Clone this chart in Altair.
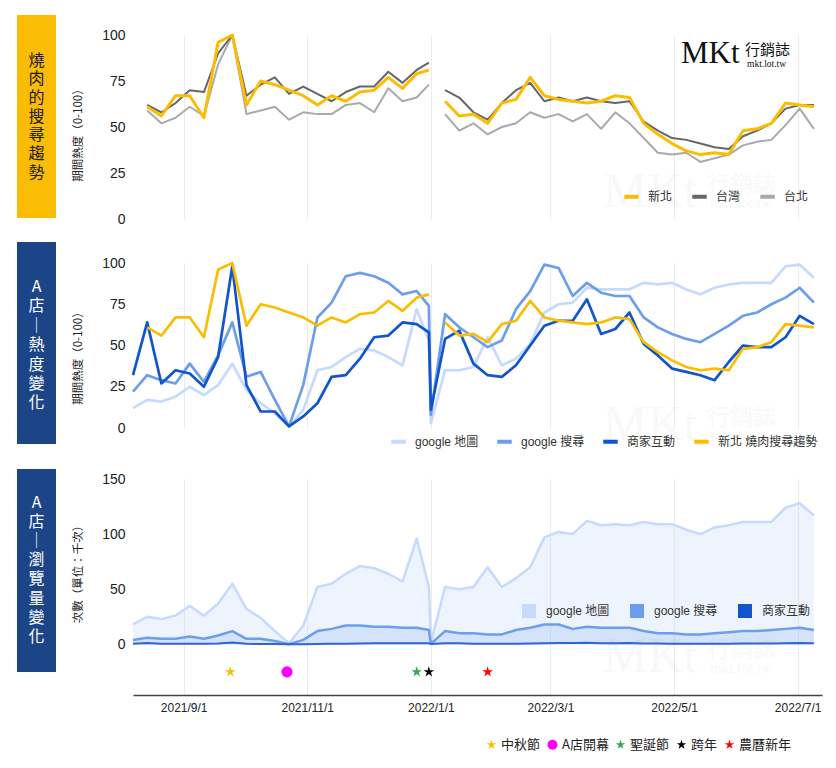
import altair as alt
import pandas as pd

# ---------------- data ----------------
dates = [
    "2021-08-07", "2021-08-14", "2021-08-21", "2021-08-28", "2021-09-04", "2021-09-11",
    "2021-09-18", "2021-09-25", "2021-10-02", "2021-10-09", "2021-10-16", "2021-10-23",
    "2021-10-30", "2021-11-06", "2021-11-13", "2021-11-20", "2021-11-27", "2021-12-04",
    "2021-12-11", "2021-12-18", "2021-12-25", "2021-12-31",
    "2022-01-01",
    "2022-01-08", "2022-01-15", "2022-01-22", "2022-01-29", "2022-02-05", "2022-02-12",
    "2022-02-19", "2022-02-26", "2022-03-05", "2022-03-12", "2022-03-19", "2022-03-26",
    "2022-04-02", "2022-04-09", "2022-04-16", "2022-04-23", "2022-04-30", "2022-05-07",
    "2022-05-14", "2022-05-21", "2022-05-28", "2022-06-04", "2022-06-11", "2022-06-18",
    "2022-06-25", "2022-07-02", "2022-07-09",
]

# Google trends (0-100)
xinbei = [None, 61, 56, 67, 67, 55, 96, 100, 62, 75, 73, 70, 67, 62, 67, 64, 69, 70, 77, 71, 79, 81,
          None,
          64, 56, 57, 52, 63, 65, 77, 67, 65, 64, 63, 64, 67, 66, 52, 46, 41, 37, 35, 36, 35, 48, 49, 52, 63, 62, 61]
taiwan = [None, 62, 58, 63, 70, 69, 90, 100, 67, 73, 77, 68, 72, 68, 64, 69, 72, 72, 80, 74, 81, 85,
          None,
          70, 66, 58, 54, 63, 70, 74, 64, 66, 64, 66, 64, 63, 64, 53, 48, 44, 43, 41, 39, 38, 45, 48, 52, 60, 62, 62]
taipei = [None, 59, 52, 55, 61, 56, 84, 100, 57, 59, 61, 54, 58, 57, 57, 62, 63, 58, 71, 64, 66, 73,
          None,
          57, 48, 52, 46, 50, 52, 58, 55, 57, 53, 57, 49, 58, 52, 44, 36, 35, 36, 31, 33, 35, 40, 42, 43, 51, 60, 49]

# Store A heat (0-100)
gmap_heat = [12, 17, 16, 19, 25, 20, 26, 39, 23, 15, 9, 1, 11, 35, 37, 43, 48, 47, 43, 38, 72, 53,
             3,
             35, 35, 37, 55, 38, 42, 51, 70, 75, 76, 85, 84, 84, 84, 88, 87, 88, 84, 81, 85, 87, 88, 88, 88, 98, 99, 91]
gsearch_heat = [22, 32, 29, 27, 39, 28, 44, 64, 31, 34, 17, 1, 26, 67, 76, 92, 94, 92, 88, 81, 83, 74,
                8,
                69, 61, 55, 49, 53, 72, 83, 99, 97, 80, 88, 82, 80, 80, 67, 61, 57, 54, 52, 57, 62, 68, 70, 75, 79, 85, 76]
interact_heat = [32, 64, 27, 35, 33, 25, 43, 98, 26, 10, 10, 1, 7, 15, 31, 32, 42, 55, 56, 64, 63, 58,
                 11,
                 54, 59, 39, 32, 31, 38, 50, 62, 65, 65, 78, 57, 60, 70, 51, 44, 36, 34, 32, 29, 40, 50, 49, 49, 55, 68, 63]

# Store A views (thousands)
gmap_views = [18, 25, 23, 26, 35, 26, 37, 55, 32, 24, 12, 1, 17, 52, 55, 64, 71, 69, 64, 57, 96, 52,
              1.5,
              52, 50, 52, 70, 52, 60, 70, 97, 102, 100, 112, 108, 109, 108, 111, 109, 109, 104, 100, 106, 108, 111, 111, 111, 124, 128, 117]
gsearch_views = [4, 6, 5, 5, 7, 5, 8, 12, 5, 5, 3, 0, 4, 12, 14, 17, 17, 16, 16, 15, 15, 13,
                 0.5,
                 12, 10, 10, 9, 9, 13, 15, 18, 18, 14, 16, 15, 15, 15, 12, 10, 10, 9, 9, 10, 11, 12, 12, 13, 14, 15, 13]
interact_views = [0.6, 1.1, 0.5, 0.6, 0.6, 0.4, 0.7, 1.6, 0.4, 0.2, 0.2, 0.0, 0.1, 0.3, 0.5, 0.5, 0.7, 0.9, 0.9, 1.0, 1.0, 0.9,
                  0.2,
                  0.9, 1.0, 0.6, 0.5, 0.5, 0.6, 0.8, 1.0, 1.1, 1.1, 1.3, 0.9, 1.0, 1.1, 0.8, 0.7, 0.6, 0.5, 0.5, 0.5, 0.6, 0.8, 0.8, 0.8, 0.9, 1.1, 1.0]

event_names = ["中秋節", "A店開幕", "聖誕節", "跨年", "農曆新年"]
event_dates = ["2021-09-24", "2021-10-22", "2021-12-25", "2021-12-31", "2022-01-29"]
event_marker_level = -25

tick_dates = ["2021-09-01", "2021-11-01", "2022-01-01", "2022-03-01", "2022-05-01", "2022-07-01"]
x_start, x_end = "2021-08-07", "2022-07-13"

box_titles = ["燒肉的搜尋趨勢", "A店│熱度變化", "A店│瀏覽量變化"]

# ---------------- styles ----------------
YEL = "#FBBC04"
BLUE_BOX = "#1C4587"
MAPC = "#C6DAFC"
SEARCHC = "#6D9EEB"
INTC = "#1155CC"
GRID = "#EBEBEB"
FONT = "'Liberation Sans', 'Noto Sans CJK TC', sans-serif"
CJK = "'Noto Sans CJK TC', 'Liberation Sans', sans-serif"
SERIF = "'Liberation Serif', serif"
W = 689
H1, H2, H3 = 184, 165, 216
BOX_X, BOX_X2 = -116, -77
WM_OPACITY = 0.025
STAR = ("M0,-1 L0.2245,-0.309 L0.951,-0.309 L0.363,0.118 L0.588,0.809 L0,0.382 "
        "L-0.588,0.809 L-0.363,0.118 L-0.951,-0.309 L-0.2245,-0.309 Z")


def dt(s):
    y, m, d = (int(p) for p in s.split("-"))
    return alt.DateTime(year=y, month=m, date=d, utc=True)


tick_vals = [dt(s) for s in tick_dates]
x_scale = alt.Scale(type="utc", domain=[dt(x_start), dt(x_end)])


def xenc(labels=False):
    if labels:
        ax = alt.Axis(values=tick_vals, format="%Y/%-m/%-d", labelFlush=False, labelFontSize=12,
                      labelColor="#222", labelPadding=7, ticks=False, domain=True, domainColor="#444",
                      domainWidth=1.5, grid=True, gridColor=GRID, title=None, labelFont=FONT)
    else:
        ax = alt.Axis(values=tick_vals, labels=False, ticks=False, domain=False, grid=True,
                      gridColor=GRID, title=None)
    return alt.X("date:T", scale=x_scale, axis=ax)


def long_df(name, vals, split=False):
    rows = []
    for d, v in zip(dates, vals):
        if v is None:
            continue
        seg = ("a" if d < "2022-01-01" else "b") if split else "a"
        rows.append({"date": d, "value": v, "series": name, "seg": seg})
    return pd.DataFrame(rows)


one = pd.DataFrame({"k": [0]})


def txt(text, x, y, font, size, color="#111", opacity=1.0):
    return alt.Chart(one).mark_text(text=text, font=font, fontSize=size, color=color, opacity=opacity,
                                    align="left", baseline="alphabetic").encode(
        x=alt.value(x), y=alt.value(y))


def watermark(y):
    # faint logo watermark; y = baseline of the big "MKt"
    return [txt("MKt", 470, y, SERIF, 50, "#000", WM_OPACITY),
            txt("行銷誌", 574, y - 15, CJK, 23, "#000", WM_OPACITY),
            txt("mkt.lot.tw", 577, y + 1, SERIF, 15, "#000", WM_OPACITY)]


def box(color, y0, y1, text, tcolor, first, step):
    layers = [alt.Chart(one).mark_rect(color=color).encode(
        x=alt.value(BOX_X), x2=alt.value(BOX_X2), y=alt.value(y0), y2=alt.value(y1))]
    for i, ch in enumerate(text):
        layers.append(alt.Chart(one).mark_text(text=ch, font=CJK, fontSize=16, color=tcolor,
                                               align="center", baseline="middle").encode(
            x=alt.value((BOX_X + BOX_X2) / 2), y=alt.value(first + i * step)))
    return layers


def yaxis(values, title, title_y):
    return alt.Axis(values=values, grid=False, domain=False, ticks=False, labelFontSize=14,
                    labelColor="#222", labelPadding=8, labelFont=FONT, title=title, titleFont=CJK,
                    titleFontSize=11.5, titleFontWeight="normal", titleColor="#222", titleX=-55,
                    titleY=title_y, titleBaseline="middle", titleAlign="center")


def line_legend(x, y, cols):
    return alt.Legend(orient="none", legendX=x, legendY=y, direction="horizontal", title=None,
                      symbolType="stroke", symbolSize=210, symbolStrokeWidth=4, labelFontSize=12,
                      labelFont=FONT, labelColor="#333", labelOffset=7, columnPadding=cols, padding=0)


# ---------------- panel 1 ----------------
y1 = alt.Y("value:Q", scale=alt.Scale(domain=[0, 100], nice=False),
           axis=yaxis([0, 25, 50, 75, 100], "期間熱度（0-100）", 97))
p1_names = ["新北", "台灣", "台北"]
p1_col = alt.Scale(domain=p1_names, range=[YEL, "#666666", "#AAAAAA"])
p1_leg = line_legend(489, 152, 11)
p1_layers = box(YEL, -20, 183, box_titles[0], "#1a1a1a", 25.5, 18.7)
p1_layers += watermark(172)
for name, vals, sw in [("台北", taipei, 2), ("台灣", taiwan, 2), ("新北", xinbei, 3)]:
    p1_layers.append(
        alt.Chart(long_df(name, vals, split=True)).mark_line(strokeWidth=sw, strokeJoin="round").encode(
            x=xenc(), y=y1, color=alt.Color("series:N", scale=p1_col, legend=p1_leg), detail="seg:N"))
p1_layers += [
    txt("MKt", 548, 28, SERIF, 31),
    txt("行銷誌", 612, 20, CJK, 15),
    txt("mkt.lot.tw", 614, 32, SERIF, 9.5),
]
p1 = alt.layer(*p1_layers).properties(width=W, height=H1)

# ---------------- panel 2 ----------------
y2 = alt.Y("value:Q", scale=alt.Scale(domain=[0, 100], nice=False),
           axis=yaxis([0, 25, 50, 75, 100], "期間熱度（0-100）", 92))
p2_names = ["google 地圖", "google 搜尋", "商家互動", "新北 燒肉搜尋趨勢"]
p2_col = alt.Scale(domain=p2_names, range=[MAPC, SEARCHC, INTC, YEL])
p2_leg = line_legend(256, 169, 10)
p2_layers = box(BLUE_BOX, -21, 181, box_titles[1], "white", 24, 19.4)
p2_layers += watermark(177)
for name, vals, split in [("google 地圖", gmap_heat, False), ("google 搜尋", gsearch_heat, False),
                          ("商家互動", interact_heat, False), ("新北 燒肉搜尋趨勢", xinbei, True)]:
    p2_layers.append(
        alt.Chart(long_df(name, vals, split=split)).mark_line(strokeWidth=2.7, strokeJoin="round").encode(
            x=xenc(), y=y2, color=alt.Color("series:N", scale=p2_col, legend=p2_leg), detail="seg:N"))
p2 = alt.layer(*p2_layers).properties(width=W, height=H2)

# ---------------- panel 3 ----------------
y3_scale = alt.Scale(domain=[-46, 150], nice=False)
y3_axis = yaxis([0, 50, 100, 150], "次數（單位：千次）", 92)
y3 = alt.Y("value:Q", scale=y3_scale, axis=y3_axis, stack=None)
p3_names = ["google 地圖", "google 搜尋", "商家互動"]
p3_col = alt.Scale(domain=p3_names, range=[MAPC, SEARCHC, INTC])
p3_leg = alt.Legend(orient="none", legendX=389, legendY=125, direction="horizontal", title=None,
                    symbolType="square", symbolSize=196, symbolOpacity=1, symbolStrokeWidth=0,
                    labelFontSize=12, labelFont=FONT, labelColor="#333", labelOffset=10,
                    columnPadding=20, padding=0)
p3_layers = box(BLUE_BOX, -10, 193, box_titles[2], "white", 24, 19.1)
series3 = [("google 地圖", gmap_views, 0.3, MAPC, 2.5),
           ("google 搜尋", gsearch_views, 0.2, SEARCHC, 2.5),
           ("商家互動", interact_views, 0.2, "#2F66D6", 2)]
for name, vals, op, c, sw in series3:
    p3_layers.append(
        alt.Chart(long_df(name, vals)).mark_area(opacity=op).encode(
            x=xenc(True), y=y3, y2=alt.datum(0),
            color=alt.Color("series:N", scale=p3_col, legend=p3_leg)))
p3_layers += watermark(193)
for name, vals, op, c, sw in series3:
    p3_layers.append(
        alt.Chart(long_df(name, vals)).mark_line(strokeWidth=sw, color=c, strokeJoin="round").encode(
            x=xenc(True), y=y3))

ev_df = pd.DataFrame({"date": event_dates, "event": event_names})
ev_leg = alt.Legend(orient="none", legendX=352, legendY=259, direction="horizontal", title=None,
                    symbolSize=100, labelFontSize=13, labelFont=CJK, labelColor="#222",
                    labelOffset=3, columnPadding=5, padding=0, symbolStrokeWidth=0)
p3_layers.append(
    alt.Chart(ev_df).mark_point(filled=True, size=125, opacity=1, strokeWidth=0).encode(
        x=xenc(True),
        y=alt.YDatum(event_marker_level, type="quantitative", scale=y3_scale, axis=y3_axis),
        fill=alt.Fill("event:N", scale=alt.Scale(domain=event_names,
                                                 range=[YEL, "#FF00FF", "#34A853", "#000000", "#FF0000"]),
                      legend=ev_leg),
        shape=alt.Shape("event:N", scale=alt.Scale(domain=event_names,
                                                   range=[STAR, "circle", STAR, STAR, STAR]),
                        legend=ev_leg)))
p3 = alt.layer(*p3_layers).properties(width=W, height=H3)

top = alt.vconcat(p1, p2, spacing=16).resolve_scale(color="independent")
chart = (
    alt.vconcat(top, p3, spacing=19)
    .resolve_scale(color="independent", fill="independent", shape="independent")
    .properties(padding={"left": 9, "top": 7, "right": 5, "bottom": 5}, background="white")
    .configure_view(stroke=None)
)

chart.save("out.html", embed_options={"renderer": "svg", "actions": False})
